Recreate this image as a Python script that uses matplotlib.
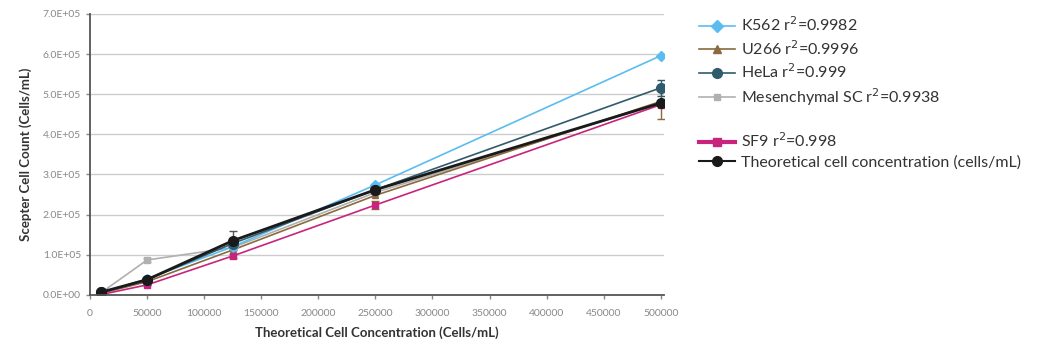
import matplotlib.pyplot as plt
from matplotlib.lines import Line2D

plt.rcParams['font.family'] = ['Lato', 'DejaVu Sans']

# theoretical concentrations (cells/mL)
conc = [10000, 50000, 125000, 250000, 500000]

k562 = [5000, 40000, 120000, 274000, 596000]
u266 = [4000, 33000, 112000, 248000, 482000]
hela = [6000, 38000, 128000, 262000, 516000]
msc = [6000, 87000, 118000, 255000, 478000]
sf9 = [1000, 25000, 97000, 224000, 474000]
theo = [7000, 38000, 135000, 262000, 478000]

hela_err = [0, 0, 0, 0, 20000]
msc_err = [0, 6000, 0, 0, 0]
sf9_err = [0, 0, 6000, 11000, 35000]
theo_err = [0, 0, 24000, 0, 0]

names = ['K562 r$^2$=0.9982', 'U266 r$^2$=0.9996', 'HeLa r$^2$=0.999',
         'Mesenchymal SC r$^2$=0.9938', 'SF9 r$^2$=0.998',
         'Theoretical cell concentration (cells/mL)']

fig = plt.figure(figsize=(10.44, 3.49), dpi=100)
ax = fig.add_axes([0.0862, 0.155, 0.55, 0.805])

ax.errorbar(conc, msc, yerr=msc_err, color='#b0b0b0', marker='s', ms=4,
            lw=1.2, capsize=3, elinewidth=1)
ax.errorbar(conc, u266, color='#8a6a3e', marker='^', ms=5, lw=1.2)
ax.errorbar(conc, k562, color='#5bbcf0', marker='D', ms=5, lw=1.2)
ax.errorbar(conc, sf9, yerr=sf9_err, color='#c8247d', marker='s', ms=5,
            lw=1.2, capsize=3, elinewidth=1, ecolor='#8a6a3e')
ax.errorbar(conc, hela, yerr=hela_err, color='#2f5b6c', marker='o', ms=7,
            lw=1.2, capsize=3, elinewidth=1)
ax.errorbar(conc, theo, yerr=theo_err, color='#1a1a1a', marker='o', ms=7,
            lw=2, capsize=3, elinewidth=1, ecolor='#555555')

ax.set_xlim(0, 503000)
ax.set_ylim(0, 700000)
ax.set_xticks(range(0, 500001, 50000))
ax.set_yticks([i * 100000 for i in range(8)])
ax.set_yticklabels([f'{i:.1f}E+05' if i else '0.0E+00' for i in range(8)])
ax.tick_params(labelsize=7.5, colors='#888888', length=3, width=1)
ax.tick_params(axis='x', pad=7)
ax.grid(axis='y', color='#cccccc', lw=1)
ax.set_axisbelow(True)
for s in ['top', 'right']:
    ax.spines[s].set_visible(False)
for s in ['left', 'bottom']:
    ax.spines[s].set_color('#555555')
    ax.spines[s].set_linewidth(1.3)

ax.set_xlabel('Theoretical Cell Concentration (Cells/mL)', fontsize=9.5,
              fontweight='bold', color='#333333', labelpad=6)
ax.set_ylabel('Scepter Cell Count (Cells/mL)', fontsize=9.5,
              fontweight='bold', color='#333333', labelpad=8)

handles = [
    Line2D([], [], color='#5bbcf0', marker='D', ms=6, lw=1.2),
    Line2D([], [], color='#8a6a3e', marker='^', ms=6, lw=1.2),
    Line2D([], [], color='#2f5b6c', marker='o', ms=7, lw=1.2),
    Line2D([], [], color='#b0b0b0', marker='s', ms=4, lw=1.2),
    Line2D([], [], color='none'),
    Line2D([], [], color='#c8247d', marker='s', ms=6, lw=3),
    Line2D([], [], color='#1a1a1a', marker='o', ms=7, lw=1.5),
]
labels = names[:4] + [''] + names[4:]
fig.legend(handles, labels, loc='upper left', bbox_to_anchor=(0.67, 0.955),
           frameon=False, fontsize=11.5, labelcolor='#333333',
           handlelength=2.2, handletextpad=0.4, labelspacing=0.3,
           borderpad=0, borderaxespad=0)

fig.savefig('out.png', dpi=100)
